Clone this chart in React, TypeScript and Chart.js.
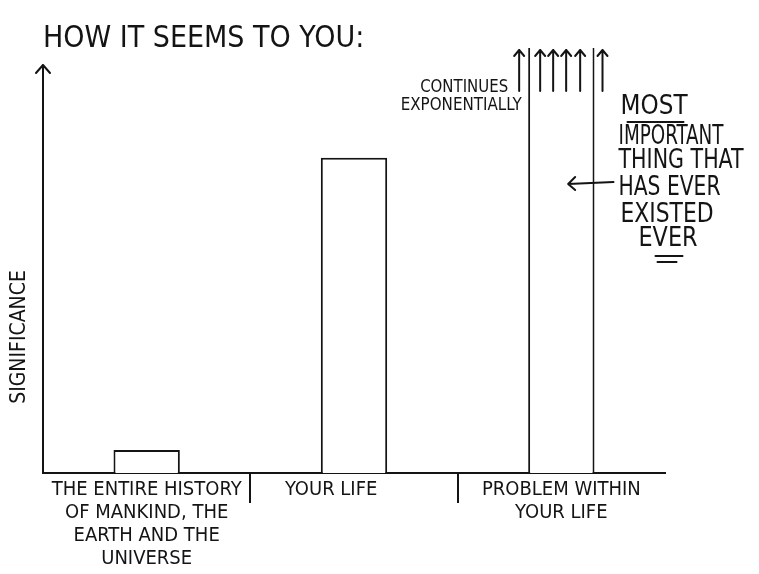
import React, { useEffect, useRef } from 'react';
import { Chart, registerables } from 'chart.js';

Chart.register(...registerables);

// ---- data ----
const TITLE = 'HOW IT SEEMS TO YOU:';
const categories: string[][] = [
  ['THE ENTIRE HISTORY', 'OF MANKIND, THE', 'EARTH AND THE', 'UNIVERSE'],
  ['YOUR LIFE        '],
  ['PROBLEM WITHIN', 'YOUR LIFE'],
];
const significance = [5.4, 74.2, 100];
const yMax = 100;
const axisArrowValue = 96;
const yAxisLabel = 'SIGNIFICANCE';
const continuesNote = ['CONTINUES', 'EXPONENTIALLY'];
const importantNote = ['MOST', 'IMPORTANT', 'THING THAT', 'HAS EVER', 'EXISTED', 'EVER'];

const FONT = "'Liberation Sans Narrow', 'DejaVu Sans Condensed', 'Liberation Sans', sans-serif";
const INK = '#141414';

function arrowUp(ctx: CanvasRenderingContext2D, x: number, tip: number, bottom: number, head = 6) {
  ctx.beginPath();
  ctx.moveTo(x, bottom);
  ctx.lineTo(x, tip);
  ctx.moveTo(x - head, tip + head + 1);
  ctx.lineTo(x, tip);
  ctx.lineTo(x + head, tip + head + 1);
  ctx.stroke();
}

const annotations = {
  id: 'annotations',
  afterDatasetsDraw(chart: any) {
    const { ctx, chartArea, scales } = chart;
    const y = scales.y;
    ctx.save();
    ctx.strokeStyle = INK;
    ctx.fillStyle = INK;
    ctx.lineWidth = 2;
    ctx.lineCap = 'round';
    ctx.lineJoin = 'round';

    // y axis with arrow
    const yTop = y.getPixelForValue(axisArrowValue);
    arrowUp(ctx, chartArea.left, yTop, chartArea.bottom, 7);

    // y axis label
    ctx.save();
    ctx.translate(chartArea.left - 23, chartArea.bottom - 136);
    ctx.rotate(-Math.PI / 2);
    ctx.font = `21px ${FONT}`;
    ctx.textAlign = 'center';
    ctx.textBaseline = 'middle';
    ctx.fillText(yAxisLabel, 0, 0, 135);
    ctx.restore();

    // arrows on the exponential bar
    const bar = chart.getDatasetMeta(0).data[2];
    const p = bar.getProps(['x', 'y', 'width'], true);
    const L = p.x - p.width / 2;
    const R = p.x + p.width / 2;
    const top = p.y;
    [L - 9, L + 12, L + 25, L + 38, L + 52, R + 8].forEach((ax) => arrowUp(ctx, ax, top + 2, top + 43, 5));

    // "continues exponentially"
    ctx.font = `18px ${FONT}`;
    ctx.textAlign = 'center';
    ctx.textBaseline = 'middle';
    ctx.fillText(continuesNote[0], L - 64, top + 39, 88);
    ctx.fillText(continuesNote[1], L - 67, top + 57, 121);

    // "most important thing ..." note
    const nx = R + 25;
    const lines = [
      { t: importantNote[0], x: nx + 1, y: top + 59, w: 67 },
      { t: importantNote[1], x: nx - 1, y: top + 89, w: 105 },
      { t: importantNote[2], x: nx - 1, y: top + 113, w: 125 },
      { t: importantNote[3], x: nx - 1, y: top + 140, w: 102 },
      { t: importantNote[4], x: nx + 1, y: top + 167, w: 93 },
      { t: importantNote[5], x: nx + 19, y: top + 191, w: 59 },
    ];
    ctx.font = `27px ${FONT}`;
    ctx.textAlign = 'left';
    lines.forEach((l) => ctx.fillText(l.t, l.x, l.y, l.w));

    // underlines
    ctx.beginPath();
    ctx.moveTo(nx + 8, top + 74);
    ctx.lineTo(nx + 64, top + 74);
    ctx.moveTo(nx + 36, top + 208);
    ctx.lineTo(nx + 63, top + 208);
    ctx.moveTo(nx + 38, top + 214);
    ctx.lineTo(nx + 57, top + 214);
    ctx.stroke();

    // pointer arrow
    const ay = top + 135;
    ctx.beginPath();
    ctx.moveTo(R + 19, ay - 1);
    ctx.lineTo(L + 40, ay + 1);
    ctx.moveTo(L + 47, ay - 6);
    ctx.lineTo(L + 40, ay + 1);
    ctx.lineTo(L + 47, ay + 7);
    ctx.stroke();

    ctx.restore();
  },
};

export default function App() {
  const ref = useRef<HTMLCanvasElement>(null);

  useEffect(() => {
    if (!ref.current) return;
    const chart = new Chart(ref.current, {
      type: 'bar',
      data: {
        labels: categories,
        datasets: [
          {
            data: significance,
            backgroundColor: '#ffffff',
            borderColor: INK,
            borderWidth: ((c: any) =>
              c.dataIndex === 2 ? { left: 2, right: 2, top: 0, bottom: 0 } : 2) as any,
            borderSkipped: 'bottom',
            barPercentage: 0.32,
            categoryPercentage: 1,
          },
        ],
      },
      options: {
        responsive: false,
        animation: false,
        layout: { padding: { left: 43, right: 94, top: 0, bottom: 0 } },
        plugins: {
          legend: { display: false },
          tooltip: { enabled: false },
          title: {
            display: true,
            text: TITLE,
            align: 'start',
            color: INK,
            font: { family: FONT, size: 30, weight: 'normal', lineHeight: 1.2 },
            padding: { top: 21, bottom: -9 },
          },
        },
        scales: {
          x: {
            border: { display: true, color: INK, width: 2 },
            grid: {
              offset: true,
              drawOnChartArea: false,
              drawTicks: true,
              tickLength: 30,
              lineWidth: 2,
              color: (c: any) => (c.index === 1 || c.index === 2 ? INK : 'rgba(0,0,0,0)'),
            },
            ticks: {
              color: INK,
              padding: -25,
              maxRotation: 0,
              autoSkip: false,
              font: { family: FONT, size: 20, lineHeight: 1.15 },
            },
            afterFit: (scale: any) => {
              scale.height = 101;
            },
          },
          y: {
            display: false,
            min: 0,
            max: yMax,
          },
        },
      },
      plugins: [annotations],
    });
    return () => chart.destroy();
  }, []);

  return (
    <div style={{ position: 'absolute', left: 0, top: 0, width: 759, height: 574, background: '#fff' }}>
      <canvas ref={ref} width={759} height={574} style={{ display: 'block' }} />
    </div>
  );
}
